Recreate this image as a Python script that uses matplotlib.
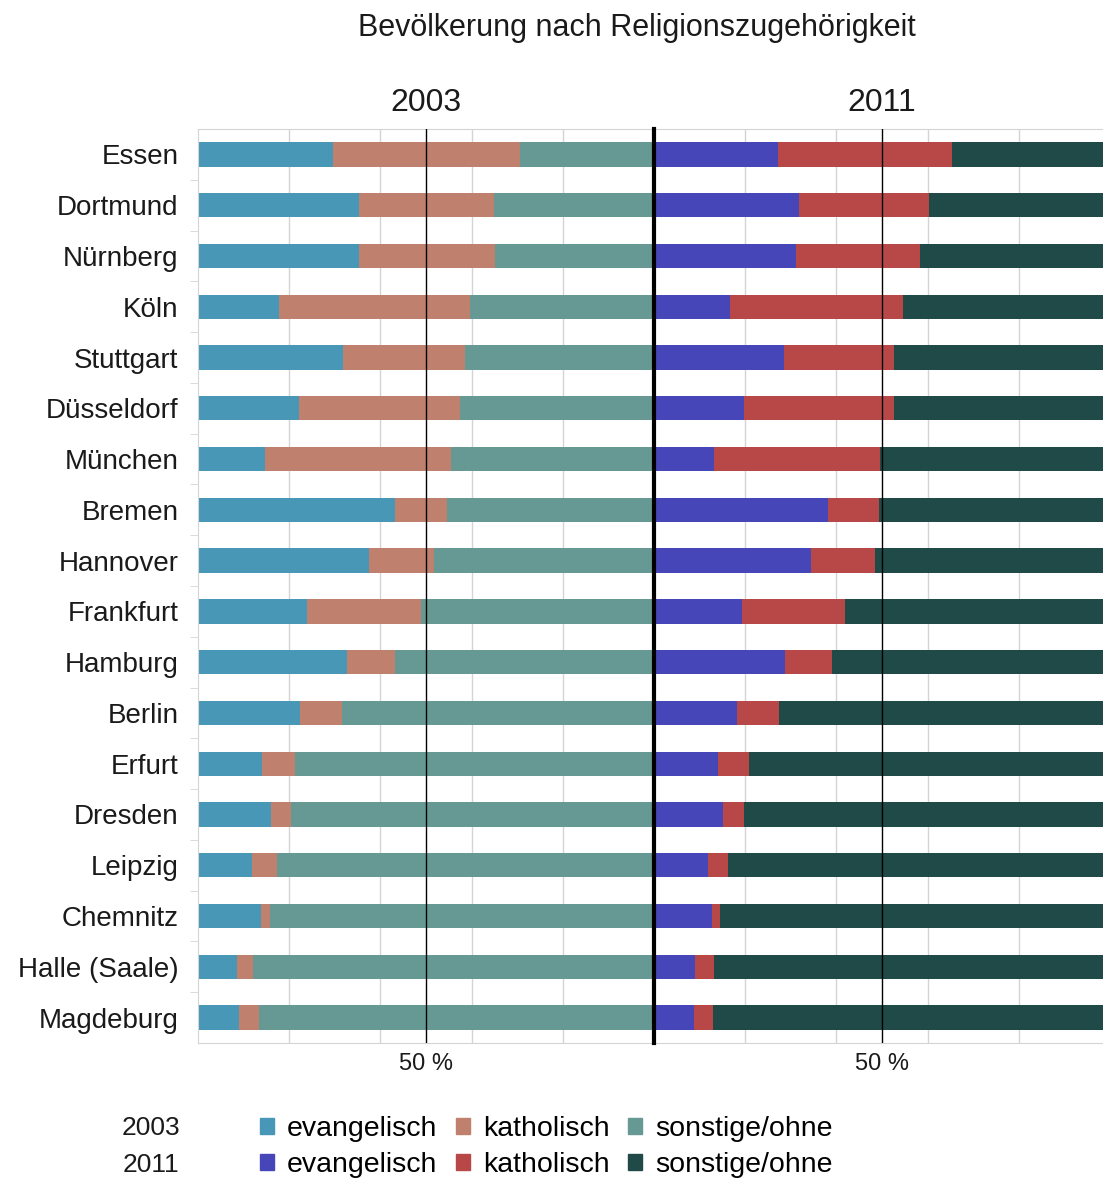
import numpy as np
import matplotlib.pyplot as plt
from matplotlib.patches import Patch

plt.rcParams['font.family'] = ['Liberation Sans', 'DejaVu Sans']

# data (percent of population)
cities = ['Essen', 'Dortmund', 'Nürnberg', 'Köln', 'Stuttgart', 'Düsseldorf',
          'München', 'Bremen', 'Hannover', 'Frankfurt', 'Hamburg', 'Berlin',
          'Erfurt', 'Dresden', 'Leipzig', 'Chemnitz', 'Halle (Saale)', 'Magdeburg']

ev_2003 = [29.5, 35.3, 35.3, 17.8, 31.9, 22.2, 14.8, 43.2, 37.6, 23.8, 32.7, 22.4,
           14.0, 15.9, 11.9, 13.8, 8.5, 8.9]
ka_2003 = [41.1, 29.7, 29.8, 41.8, 26.7, 35.3, 40.6, 11.5, 14.2, 25.0, 10.4, 9.2,
           7.2, 4.6, 5.5, 2.0, 3.6, 4.5]
so_2003 = [29.4, 35.0, 34.9, 40.4, 41.4, 42.5, 44.6, 45.3, 48.2, 51.2, 56.9, 68.4,
           78.8, 79.5, 82.6, 84.2, 87.9, 86.6]

ev_2011 = [27.1, 31.9, 31.1, 16.7, 28.4, 19.8, 13.2, 38.2, 34.4, 19.4, 28.7, 18.3,
           14.0, 15.2, 11.8, 12.7, 9.1, 8.8]
ka_2011 = [38.3, 28.4, 27.2, 38.0, 24.3, 32.9, 36.4, 11.1, 14.1, 22.5, 10.3, 9.2,
           6.9, 4.5, 4.4, 1.8, 4.1, 4.1]
so_2011 = [34.6, 39.7, 41.7, 45.3, 47.3, 47.3, 50.4, 50.7, 51.5, 58.1, 61.0, 72.5,
           79.1, 80.3, 83.8, 85.5, 86.8, 87.1]

col_2003 = ['#4897b6', '#c0806e', '#669894']
col_2011 = ['#4646b8', '#b84848', '#1f4a48']
grey = '#d4d4d4'
txt = '#1a1a1a'

W, H = 1103, 1180
fig = plt.figure(figsize=(W / 100, H / 100), dpi=100)

ax1 = fig.add_axes([198 / W, 1 - 1043 / H, 456 / W, 914 / H])
ax2 = fig.add_axes([654 / W, 1 - 1043 / H, 456 / W, 914 / H])

y = np.arange(len(cities))

def draw(ax, ev, ka, so, cols, year):
    ev = np.array(ev); ka = np.array(ka); so = np.array(so)
    ax.barh(y, ev, height=0.48, color=cols[0], zorder=2)
    ax.barh(y, ka, left=ev, height=0.48, color=cols[1], zorder=2)
    ax.barh(y, so, left=ev + ka, height=0.48, color=cols[2], zorder=2)
    ax.set_xlim(0, 100)
    ax.set_ylim(len(cities) - 0.5, -0.5)
    for gx in [20, 40, 60, 80]:
        ax.axvline(gx, color=grey, lw=1, zorder=1)
    ax.axvline(50, color='black', lw=1, zorder=3)
    ax.set_xticks([50])
    ax.set_xticklabels(['50 %'], fontsize=17, color=txt)
    ax.tick_params(axis='x', length=0, pad=7)
    for s in ['top', 'bottom', 'left', 'right']:
        ax.spines[s].set_color(grey)
    ax.set_title(year, fontsize=23, pad=13, color=txt)

draw(ax1, ev_2003, ka_2003, so_2003, col_2003, '2003')
draw(ax2, ev_2011, ka_2011, so_2011, col_2011, '2011')

ax1.set_yticks(y)
ax1.set_yticklabels(cities, fontsize=20, color=txt)
ax1.tick_params(axis='y', length=0, pad=14)
ax1.set_yticks(y[:-1] + 0.5, minor=True)
ax1.tick_params(axis='y', which='minor', length=6, color=grey)
ax1.spines['right'].set_visible(False)

ax2.set_yticks([])
ax2.spines['left'].set_color('black')
ax2.spines['left'].set_linewidth(3)
ax2.spines['left'].set_zorder(5)

fig.text(637 / W, 1 - 28 / H, 'Bevölkerung nach Religionszugehörigkeit',
         ha='center', va='center', fontsize=22, color=txt)

# legend
labels = ['evangelisch', 'katholisch', 'sonstige/ohne']
handles = []
for i in range(3):
    handles.append(Patch(color=col_2003[i], label=labels[i]))
    handles.append(Patch(color=col_2011[i], label=labels[i]))
fig.legend(handles=handles, ncol=3, frameon=False, loc='center left',
           bbox_to_anchor=(260 / W, 1 - 1147 / H), fontsize=20.5,
           handlelength=0.5, handleheight=0.5, handletextpad=0.45,
           columnspacing=0.65, labelspacing=0.35, borderaxespad=0,
           borderpad=0)
fig.text(151 / W, 1 - 1128 / H, '2003', ha='center', va='center', fontsize=19, color=txt)
fig.text(151 / W, 1 - 1165 / H, '2011', ha='center', va='center', fontsize=19, color=txt)

fig.savefig('out.png', dpi=100)
